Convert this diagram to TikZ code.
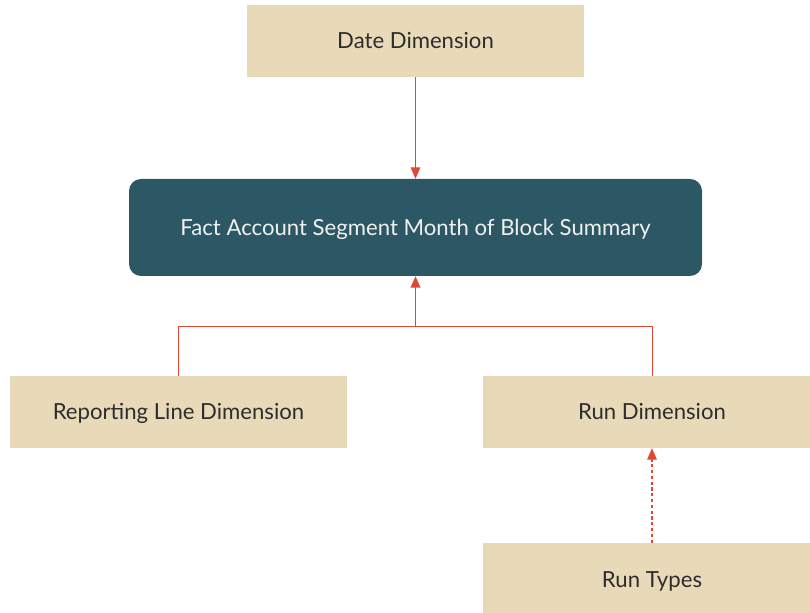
\documentclass[tikz,border=0pt]{standalone}
\usepackage{fontspec}
\setmainfont{Lato}
\usetikzlibrary{arrows.meta}
\definecolor{tan}{RGB}{232,218,184}
\definecolor{teal}{RGB}{44,88,102}
\definecolor{redline}{RGB}{224,72,52}
\definecolor{txt}{RGB}{45,45,45}
\begin{document}
\begin{tikzpicture}[
  dimbox/.style={fill=tan, text=txt, minimum width=11.233cm, minimum height=2.4cm, text height=15pt, text depth=0pt, font=\fontsize{21}{25}\selectfont},
  factbox/.style={fill=teal, text=white!94!black, rounded corners=0.4cm, minimum width=19.1cm, minimum height=3.233cm, text height=15pt, text depth=0pt, font=\fontsize{21}{25}\selectfont},
  conn/.style={draw=redline, line width=0.9pt},
  tip/.style={-{Triangle[length=0.38cm, width=0.32cm]}}
]
\useasboundingbox (0,0) rectangle (27,-20.433);
\clip (0,0) rectangle (27,-20.433);

\node[dimbox] (date) at (13.85,-1.367) {Date Dimension};
\node[factbox] (fact) at (13.85,-7.583) {Fact Account Segment Month of Block Summary};
\node[dimbox] (rep) at (5.95,-13.733) {Reporting Line Dimension};
\node[dimbox, minimum width=11.267cm] (run) at (21.733,-13.733) {Run Dimension};
\node[dimbox, minimum width=11.267cm, minimum height=2.467cm] (types) at (21.733,-19.333) {Run Types};

\coordinate (jn) at (13.85,-10.867);

\draw[conn, tip] (date) -- (fact);
\draw[conn] (rep.north) |- (jn) -| (run.north);
\draw[conn, tip, line width=1.6pt] (jn) -- (fact.south);
\draw[conn, tip, line width=1.1pt, dash pattern=on 3pt off 2.5pt] (types) -- (run);

\end{tikzpicture}
\end{document}
